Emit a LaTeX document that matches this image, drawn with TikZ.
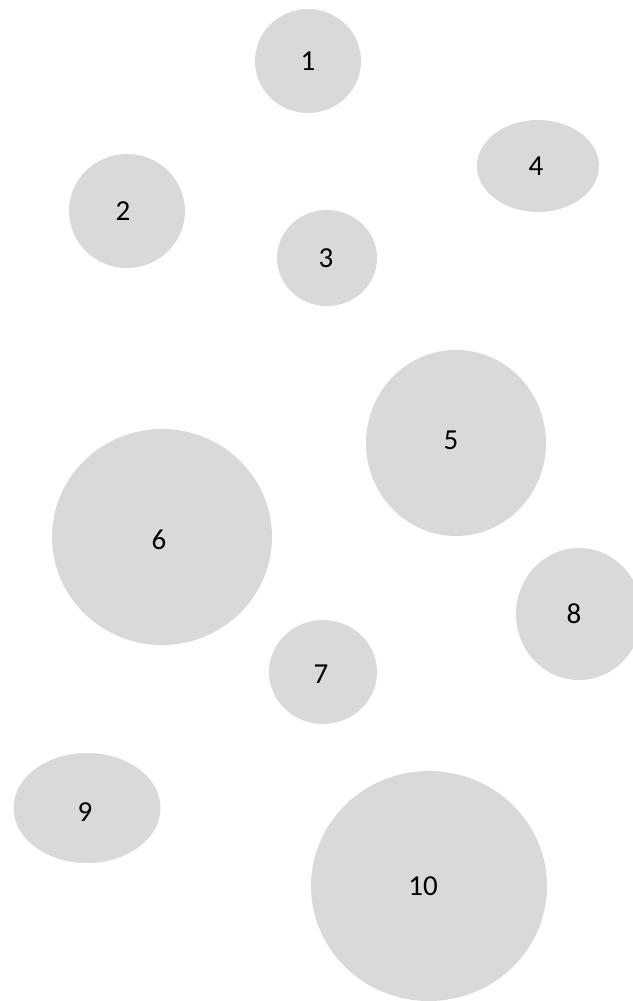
\documentclass[tikz,border=0pt]{standalone}
\usepackage{fontspec}
\setmainfont{Carlito}
\usetikzlibrary{shapes.geometric}
\definecolor{blobgray}{HTML}{D9D9D9}
\definecolor{ink}{HTML}{000000}
\tikzset{
  blob/.style={ellipse, fill=blobgray, draw=none, inner sep=0pt},
  num/.style={text=ink, inner sep=0pt, font=\fontsize{29pt}{32pt}\selectfont},
}
\begin{document}
\begin{tikzpicture}[x=1pt, y=-1pt]
    \useasboundingbox (0,0) rectangle (632,1001);
    \node[blob, minimum width=106pt, minimum height=104pt,
      label={[num]center:1}] (b1) at (308,61) {};
    \node[blob, minimum width=116pt, minimum height=114pt,
      label={[num, xshift=-4pt]center:2}] (b2) at (127,211) {};
    \node[blob, minimum width=100pt, minimum height=96pt,
      label={[num, xshift=-1pt]center:3}] (b3) at (327,258) {};
    \node[blob, minimum width=122pt, minimum height=92pt,
      label={[num, xshift=-2pt]center:4}] (b4) at (538,166) {};
    \node[blob, minimum width=180pt, minimum height=186pt,
      label={[num, xshift=-5pt, yshift=3pt]center:5}] (b5) at (456,443) {};
    \node[blob, minimum width=220pt, minimum height=216pt,
      label={[num, xshift=-3pt, yshift=-3pt]center:6}] (b6) at (162,537) {};
    \node[blob, minimum width=108pt, minimum height=104pt,
      label={[num, xshift=-2pt, yshift=-2pt]center:7}] (b7) at (323,672) {};
    \node[blob, minimum width=126pt, minimum height=132pt,
      label={[num, xshift=-5pt]center:8}] (b8) at (579,614) {};
    \node[blob, minimum width=147pt, minimum height=110pt,
      label={[num, xshift=-2pt, yshift=-4pt]center:9}] (b9) at (87,808) {};
    \node[blob, minimum width=236pt, minimum height=230pt,
      label={[num, xshift=-6pt]center:10}] (b10) at (429,886) {};
  \end{tikzpicture}
\end{document}
